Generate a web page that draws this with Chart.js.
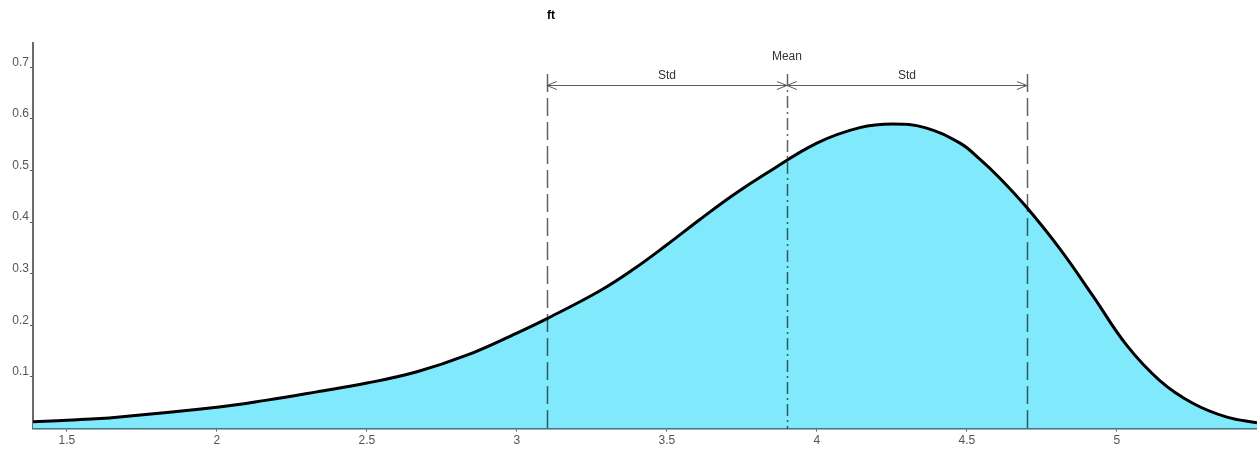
<!DOCTYPE html>
<html>
<head>
<meta charset="utf-8">
<script src="https://cdn.jsdelivr.net/npm/chart.js@4/dist/chart.umd.min.js"></script>
<style>
  html, body { margin:0; padding:0; background:#fff; }
  #wrap { width:1257px; height:450px; position:relative; }
</style>
</head>
<body>
<div id="wrap"><canvas id="c"></canvas></div>
<script>
// ============ DATA ============
const xVals = [1.387,1.5,1.667,2.0,2.167,2.333,2.5,2.667,2.833,3.0,3.097,3.277,3.387,3.5,3.61,3.72,3.833,
               4.0,4.143,4.253,4.36,4.477,4.543,4.61,4.697,4.81,4.92,5.033,5.143,5.253,5.367,5.467];
const density = [0.013,0.016,0.022,0.041,0.055,0.071,0.088,0.110,0.142,0.185,0.212,0.267,0.308,0.356,0.405,0.452,0.495,
                 0.553,0.583,0.590,0.583,0.553,0.522,0.485,0.430,0.348,0.257,0.161,0.093,0.049,0.022,0.011];
const xTicks = [1.5,2,2.5,3,3.5,4,4.5,5];
const yTicks = [0.1,0.2,0.3,0.4,0.5,0.6,0.7];
const meanVal = 3.9;
const stdVal = 0.8;
const titleText = 'ft';

// ============ ANNOTATIONS ============
const stdPlugin = {
  id:'stdMarks',
  afterDatasetsDraw(chart) {
    const ctx = chart.ctx, xs = chart.scales.x, area = chart.chartArea;
    const xl = xs.getPixelForValue(meanVal - stdVal);
    const xm = xs.getPixelForValue(meanVal);
    const xr = xs.getPixelForValue(meanVal + stdVal);
    const top = 74, arrowY = 85, bot = area.bottom;
    ctx.save();
    ctx.strokeStyle = 'rgba(0,0,0,0.62)';
    ctx.lineWidth = 1.5;
    // std lines dashed, mean dash-dot
    [[xl,[18,6]],[xr,[18,6]],[xm,[12,4,2,4]]].forEach(([x,d]) => {
      ctx.setLineDash(d);
      ctx.beginPath();
      ctx.moveTo(Math.round(x)+0.5, top);
      ctx.lineTo(Math.round(x)+0.5, bot);
      ctx.stroke();
    });
    ctx.setLineDash([]);
    ctx.strokeStyle = '#5a5a5a';
    ctx.lineWidth = 1;
    ctx.beginPath();
    ctx.moveTo(xl, arrowY+0.5); ctx.lineTo(xr, arrowY+0.5);
    ctx.stroke();
    const head = (x, dir) => {
      ctx.beginPath();
      ctx.moveTo(x + dir*10, arrowY+0.5-4);
      ctx.lineTo(x, arrowY+0.5);
      ctx.lineTo(x + dir*10, arrowY+0.5+4);
      ctx.stroke();
    };
    head(xl, 1); head(xm, -1); head(xm, 1); head(xr, -1);
    ctx.fillStyle = '#333';
    ctx.font = '12px "Liberation Sans", Arial, sans-serif';
    ctx.textAlign = 'center';
    ctx.textBaseline = 'middle';
    ctx.fillText('Std', (xl+xm)/2, arrowY-9);
    ctx.fillText('Std', (xm+xr)/2, arrowY-9);
    ctx.fillText('Mean', xm, 57);
    ctx.fillStyle = '#000';
    ctx.font = 'bold 12px "Liberation Sans", Arial, sans-serif';
    ctx.fillText(titleText, 551, 16);
    ctx.restore();
  }
};

// ============ CHART ============
new Chart(document.getElementById('c'), {
  type:'line',
  data:{
    datasets:[{
      data: xVals.map((x,i) => ({x, y:density[i]})),
      borderColor:'#000',
      borderWidth:3,
      backgroundColor:'#80eafc',
      fill:'origin',
      pointRadius:0,
      tension:0.4
    }]
  },
  options:{
    responsive:true, maintainAspectRatio:false, animation:false,
    layout:{padding:{top:43, right:0, left:0, bottom:0}},
    plugins:{legend:{display:false}, tooltip:{enabled:false}, title:{display:false}},
    scales:{
      x:{
        type:'linear', min:xVals[0], max:xVals[xVals.length-1],
        afterBuildTicks: s => { s.ticks = xTicks.map(v => ({value:v})); },
        afterFit: s => { s.height = 21.5; },
        grid:{drawOnChartArea:false, tickLength:3, color:'#555'},
        border:{color:'#3a6670', width:1.5},
        ticks:{color:'#555', font:{family:'"Liberation Sans", Arial', size:12}, padding:2, maxRotation:0, autoSkip:false,
               callback: v => String(v)}
      },
      y:{
        min:0, max:0.747,
        afterBuildTicks: s => { s.ticks = yTicks.map(v => ({value:v})); },
        afterFit: s => { s.width = 33; },
        grid:{drawOnChartArea:false, tickLength:3, color:'#555'},
        border:{color:'#6a6a6a', width:2},
        ticks:{color:'#555', font:{family:'"Liberation Sans", Arial', size:12}, padding:1, labelOffset:-5,
               callback: v => String(v)}
      }
    }
  },
  plugins:[stdPlugin]
});
</script>
</body>
</html>
